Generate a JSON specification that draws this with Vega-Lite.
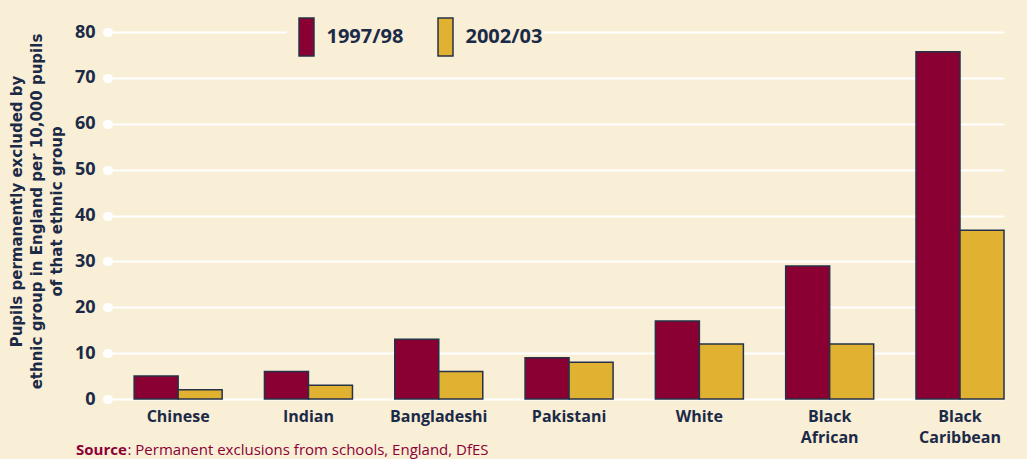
{
  "$schema": "https://vega.github.io/schema/vega-lite/v6.json",
  "autosize": {"type": "none"},
  "width": 896,
  "height": 367,
  "padding": {"left": 108, "top": 32, "right": 23, "bottom": 60},
  "background": "#f9eed6",
  "config": {"view": {"stroke": null}, "font": "Open Sans"},
  "data": {
    "values": [
      {"group": "Chinese", "year": "1997/98", "value": 5},
      {"group": "Chinese", "year": "2002/03", "value": 2},
      {"group": "Indian", "year": "1997/98", "value": 6},
      {"group": "Indian", "year": "2002/03", "value": 3},
      {"group": "Bangladeshi", "year": "1997/98", "value": 13},
      {"group": "Bangladeshi", "year": "2002/03", "value": 6},
      {"group": "Pakistani", "year": "1997/98", "value": 9},
      {"group": "Pakistani", "year": "2002/03", "value": 8},
      {"group": "White", "year": "1997/98", "value": 17},
      {"group": "White", "year": "2002/03", "value": 12},
      {"group": "Black African", "year": "1997/98", "value": 29},
      {"group": "Black African", "year": "2002/03", "value": 12},
      {"group": "Black Caribbean", "year": "1997/98", "value": 75.7},
      {"group": "Black Caribbean", "year": "2002/03", "value": 36.8}
    ]
  },
  "mark": {"type": "bar", "stroke": "#253247", "strokeWidth": 1.5},
  "encoding": {
    "x": {
      "field": "group",
      "type": "nominal",
      "sort": ["Chinese", "Indian", "Bangladeshi", "Pakistani", "White", "Black African", "Black Caribbean"],
      "scale": {"paddingInner": 0.3246, "paddingOuter": 0.1003, "align": 1},
      "axis": {
        "title": ": Permanent exclusions from schools, England, DfES",
        "titleX": 19,
        "titleY": 55.5,
        "titleAnchor": null,
        "titleAlign": "left",
        "titleBaseline": "alphabetic",
        "titleFontWeight": "normal",
        "titleFontSize": 15,
        "titleColor": "#8b0035",
        "labelAngle": 0,
        "domain": false,
        "ticks": false,
        "labelPadding": 9,
        "labelFontSize": 16,
        "labelFontWeight": "bold",
        "labelColor": "#1b2a47",
        "labelExpr": "split(datum.label, ' ')",
        "labelLineHeight": 21,
        "labelBaseline": "top"
      }
    },
    "xOffset": {"field": "year", "sort": ["1997/98", "2002/03"]},
    "y": {
      "field": "value",
      "type": "quantitative",
      "scale": {"domain": [0, 80]},
      "axis": {
        "values": [0, 10, 20, 30, 40, 50, 60, 70, 80],
        "grid": true,
        "gridColor": "#ffffff",
        "gridWidth": 2,
        "gridOpacity": 1,
        "domain": false,
        "tickColor": "#ffffff",
        "tickWidth": 9,
        "tickCap": "round",
        "tickSize": 1,
        "tickOpacity": 1,
        "labelPadding": 12,
        "labelFontSize": 18,
        "labelFontWeight": "bold",
        "labelColor": "#1b2a47",
        "title": ["Pupils permanently excluded by", "ethnic group in England per 10,000 pupils", "of that ethnic group"],
        "titleFont": "DejaVu Sans",
        "titleFontSize": 15,
        "titleFontWeight": "bold",
        "titleColor": "#1b2a47",
        "titleAngle": -90,
        "titleX": -92,
        "titleY": 179,
        "titleAlign": "center",
        "titleBaseline": "middle",
        "titleLineHeight": 20
      }
    },
    "color": {
      "field": "year",
      "type": "nominal",
      "scale": {"domain": ["1997/98", "2002/03"], "range": ["#8a0033", "#e1b132"]},
      "legend": {
        "title": null,
        "orient": "none",
        "legendX": 178.5,
        "legendY": -15,
        "direction": "horizontal",
        "fillColor": "#f9eed6",
        "padding": 0,
        "symbolType": "M-0.394,-1H0.394V1H-0.394Z",
        "symbolSize": 1444,
        "symbolStrokeColor": "#253247",
        "symbolStrokeWidth": 1.5,
        "symbolOpacity": 1,
        "labelFontSize": 20,
        "labelFontWeight": "bold",
        "labelColor": "#1b2a47",
        "labelOffset": 0,
        "columnPadding": 22,
        "labelLimit": 200
      }
    }
  },
  "title": {
    "text": "Source",
    "orient": "bottom",
    "anchor": "start",
    "frame": "group",
    "offset": 0,
    "dx": -32,
    "dy": -2.5,
    "baseline": "alphabetic",
    "fontSize": 15,
    "fontWeight": "bold",
    "color": "#8b0035"
  }
}
